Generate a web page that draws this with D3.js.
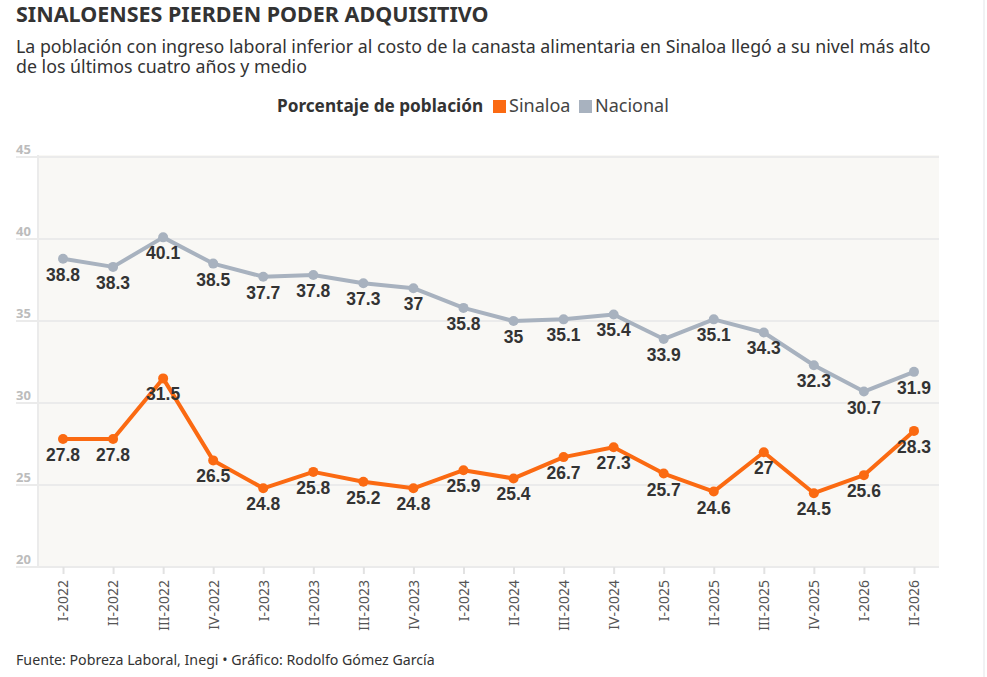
<!DOCTYPE html>
<html>
<head>
    <meta charset="utf-8">
    <script src="https://d3js.org/d3.v7.min.js"></script>
    <style>
        body { margin: 0; background: #fff; }
        svg { display: block; }
        text { font-family: 'Noto Sans', sans-serif; }
    </style>
</head>
<body>
    <svg id="chart" width="987" height="677"></svg>

    <script>
        // Data
        const periods = ["I-2022", "II-2022", "III-2022", "IV-2022", "I-2023", "II-2023", "III-2023", "IV-2023",
            "I-2024", "II-2024", "III-2024", "IV-2024", "I-2025", "II-2025", "III-2025", "IV-2025", "I-2026", "II-2026"];
        const sinaloa = [27.8, 27.8, 31.5, 26.5, 24.8, 25.8, 25.2, 24.8, 25.9, 25.4, 26.7, 27.3, 25.7, 24.6, 27, 24.5, 25.6, 28.3];
        const nacional = [38.8, 38.3, 40.1, 38.5, 37.7, 37.8, 37.3, 37, 35.8, 35, 35.1, 35.4, 33.9, 35.1, 34.3, 32.3, 30.7, 31.9];
        const yTicks = [20, 25, 30, 35, 40, 45];

        const series = [
            { name: "Nacional", values: nacional, color: "#a8b2bf" },
            { name: "Sinaloa", values: sinaloa, color: "#fb6a12" }
        ];

        const svg = d3.select("#chart");

        // Header
        svg.append("text")
            .attr("x", 16).attr("y", 22)
            .style("font-size", "21.5px").style("font-weight", "bold").style("fill", "#333")
            .text("SINALOENSES PIERDEN PODER ADQUISITIVO");

        const sub = ["La población con ingreso laboral inferior al costo de la canasta alimentaria en Sinaloa llegó a su nivel más alto",
                     "de los últimos cuatro años y medio"];
        svg.selectAll(".sub").data(sub).join("text")
            .attr("class", "sub")
            .attr("x", 16).attr("y", (d, i) => 53 + i * 20)
            .style("font-size", "17.8px").style("fill", "#333")
            .text(d => d);

        // Legend
        const legend = svg.append("g").attr("transform", "translate(0,112)");
        legend.append("text").attr("x", 277).attr("y", 0)
            .style("font-size", "17.2px").style("font-weight", "bold").style("fill", "#333")
            .text("Porcentaje de población");
        const legendItems = [{ name: "Sinaloa", color: "#fb6a12", x: 493 }, { name: "Nacional", color: "#a8b2bf", x: 579 }];
        legendItems.forEach(d => {
            legend.append("rect").attr("x", d.x).attr("y", -12).attr("width", 13).attr("height", 13).attr("fill", d.color);
            legend.append("text").attr("x", d.x + 16).attr("y", 0)
                .style("font-size", "18px").style("fill", "#444").text(d.name);
        });

        // Right border
        svg.append("line").attr("x1", 984).attr("x2", 984).attr("y1", 0).attr("y2", 677)
            .attr("stroke", "#e3e5e8").attr("stroke-width", 1);

        // Scales
        const mLeft = 38, mRight = 939, mTop = 157, mBottom = 567;
        const x = d3.scalePoint().domain(periods).range([mLeft, mRight]).padding(0.5);
        const y = d3.scaleLinear().domain([20, 45]).range([mBottom, mTop]);

        // Plot background
        svg.append("rect").attr("x", mLeft).attr("y", mTop - 2).attr("width", mRight - mLeft).attr("height", mBottom - mTop + 2)
            .attr("fill", "#f9f8f5");

        // Gridlines + y labels
        const grid = svg.append("g");
        grid.selectAll("line").data(yTicks).join("line")
            .attr("x1", 16).attr("x2", mRight)
            .attr("y1", d => y(d)).attr("y2", d => y(d))
            .attr("stroke", "#ebebeb").attr("stroke-width", 2);
        grid.selectAll("text").data(yTicks).join("text")
            .attr("x", 16).attr("y", d => y(d) - 3)
            .style("font-size", "13px").style("font-weight", "bold").style("fill", "#bcbcbc")
            .text(d => d);

        // left border of plot
        svg.append("line").attr("x1", mLeft).attr("x2", mLeft).attr("y1", mTop - 2).attr("y2", mBottom)
            .attr("stroke", "#ebebeb").attr("stroke-width", 2);

        // X axis
        const xAxis = svg.append("g")
            .attr("transform", `translate(0,${mBottom})`)
            .call(d3.axisBottom(x).tickSize(7).tickPadding(4));
        xAxis.attr("font-family", null).attr("font-size", null);
        xAxis.select(".domain").remove();
        xAxis.selectAll(".tick line").attr("stroke", "#e2e2e2").attr("stroke-width", 2);
        xAxis.selectAll(".tick text")
            .attr("transform", "rotate(-90)")
            .attr("x", -13).attr("y", 0).attr("dy", "0.35em")
            .style("text-anchor", "end")
            .style("font-family", "'Noto Sans', sans-serif")
            .style("font-size", "14px").style("fill", "#555");

        // Lines, dots, labels
        const line = d3.line().x((d, i) => x(periods[i])).y(d => y(d));
        series.forEach(s => {
            const g = svg.append("g");
            g.append("path").datum(s.values)
                .attr("d", line).attr("fill", "none")
                .attr("stroke", s.color).attr("stroke-width", 4)
                .attr("stroke-linejoin", "round");
            g.selectAll("circle").data(s.values).join("circle")
                .attr("cx", (d, i) => x(periods[i])).attr("cy", d => y(d))
                .attr("r", 5).attr("fill", s.color);
            g.selectAll("text").data(s.values).join("text")
                .attr("x", (d, i) => x(periods[i])).attr("y", d => y(d) + 22)
                .attr("text-anchor", "middle")
                .style("font-family", "'Liberation Sans', Arial, sans-serif")
                .style("font-size", "17.5px").style("font-weight", "bold").style("fill", "#333")
                .text(d => d);
        });

        // Footer
        svg.append("text").attr("x", 16).attr("y", 665)
            .style("font-size", "14.2px").style("fill", "#333")
            .text("Fuente: Pobreza Laboral, Inegi • Gráfico: Rodolfo Gómez García");
    </script>
</body>
</html>
